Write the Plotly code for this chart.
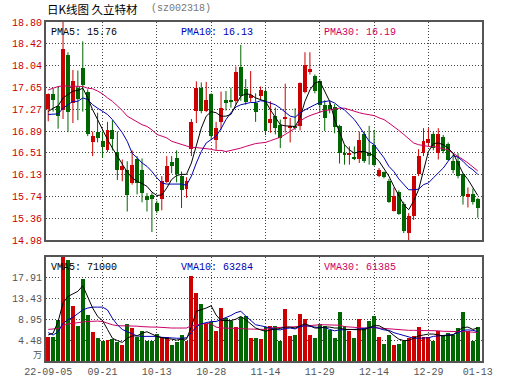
import plotly.graph_objects as go

# ---------------- data ----------------
tick_idx = [0, 11, 22, 33, 44, 55, 66, 77, 87]
tick_text = ["22-09-05", "09-21", "10-13", "10-28", "11-14", "11-29", "12-14", "12-29", "01-13"]

price_ticks = [18.80, 18.42, 18.04, 17.65, 17.27, 16.89, 16.51, 16.13, 15.74, 15.36, 14.98]
vol_ticks = [4.48, 8.95, 13.43, 17.91]

open_ = [17.27, 17.53, 17.33, 17.25, 18.23, 17.38, 17.65, 17.99, 17.57, 16.69,
         16.88, 16.71, 16.55, 16.90, 16.52, 16.20, 16.21, 15.98, 16.40, 16.21,
         15.75, 15.76, 15.62, 15.70, 16.00, 16.35, 16.42, 16.11, 15.88, 16.57,
         17.24, 17.65, 17.24, 17.53, 16.74, 17.04, 17.43, 17.44, 17.41, 18.02,
         17.62, 17.46, 17.38, 17.51, 17.59, 17.03, 17.16, 17.00, 17.11, 16.96,
         16.97, 16.98, 17.57, 17.92, 17.86, 17.77, 17.35, 17.35, 17.31, 16.97,
         16.51, 16.47, 16.43, 16.40, 16.83, 16.51, 16.65, 16.11, 16.17, 16.02,
         15.49, 15.82, 15.61, 15.10, 15.40, 16.14, 16.50, 16.68, 16.83, 16.50,
         16.79, 16.67, 16.36, 16.36, 16.14, 15.73, 15.78, 15.69]
high = [17.55, 17.63, 17.66, 18.85, 18.27, 17.96, 17.95, 18.46, 17.62, 16.88,
        17.21, 16.88, 17.05, 17.08, 16.88, 16.39, 16.36, 16.55, 16.45, 16.41,
        15.80, 15.81, 15.67, 16.10, 16.45, 16.45, 16.55, 16.18, 16.08, 17.10,
        17.76, 17.74, 17.75, 17.55, 17.05, 17.58, 17.59, 17.65, 18.02, 18.40,
        17.80, 17.94, 17.55, 17.67, 17.62, 17.41, 17.30, 17.09, 17.72, 17.12,
        17.29, 17.74, 18.27, 18.27, 17.88, 17.80, 17.43, 17.41, 17.36, 17.00,
        16.65, 16.62, 16.62, 16.88, 16.88, 16.98, 16.91, 16.24, 16.18, 16.05,
        15.90, 15.85, 15.65, 15.45, 16.10, 16.57, 16.94, 16.94, 16.87, 16.94,
        16.82, 16.69, 16.48, 16.50, 16.15, 15.90, 15.88, 15.72]
low = [17.06, 17.23, 16.93, 17.10, 16.87, 17.03, 17.08, 17.23, 16.80, 16.45,
       16.69, 16.42, 16.52, 16.55, 16.03, 16.01, 15.48, 15.95, 15.78, 15.64,
       15.48, 15.12, 15.45, 15.50, 15.98, 16.15, 15.99, 15.54, 15.72, 16.45,
       17.03, 17.20, 17.22, 16.74, 16.56, 16.91, 17.25, 17.30, 17.35, 17.42,
       17.35, 17.40, 17.05, 17.45, 16.82, 16.86, 16.83, 16.59, 16.86, 16.69,
       16.91, 16.90, 17.55, 17.88, 17.55, 17.21, 16.89, 17.20, 16.85, 16.32,
       16.30, 16.30, 16.38, 16.33, 16.33, 16.30, 16.28, 16.08, 16.06, 15.63,
       15.48, 15.42, 15.10, 14.98, 15.33, 16.10, 16.45, 16.62, 16.55, 16.39,
       16.50, 16.37, 16.15, 16.06, 15.60, 15.55, 15.60, 15.37]
close = [17.53, 17.43, 17.16, 18.33, 17.22, 17.76, 17.45, 17.70, 16.83, 16.80,
         16.77, 16.61, 16.90, 16.75, 16.20, 16.28, 15.77, 16.30, 15.98, 15.80,
         15.68, 15.69, 15.48, 16.02, 16.28, 16.27, 16.14, 15.86, 16.02, 17.04,
         17.65, 17.24, 17.44, 16.80, 16.94, 17.29, 17.38, 17.40, 17.92, 17.51,
         17.39, 17.52, 17.23, 17.60, 16.89, 17.10, 16.94, 16.77, 17.14, 16.98,
         16.95, 17.73, 18.05, 17.98, 17.59, 17.35, 17.12, 17.27, 16.96, 16.50,
         16.47, 16.50, 16.40, 16.74, 16.37, 16.46, 16.30, 16.21, 16.08, 15.64,
         15.75, 15.44, 15.13, 15.40, 16.10, 16.46, 16.71, 16.75, 16.59, 16.84,
         16.54, 16.39, 16.20, 16.10, 15.75, 15.78, 15.64, 15.54]

ma5 = [17.23, 17.29, 17.33, 17.47, 17.53, 17.59, 17.60, 17.64, 17.47, 17.26,
       17.09, 16.91, 16.74, 16.59, 16.45, 16.30, 16.17, 16.07, 16.01, 15.97,
       15.92, 15.82, 15.76, 15.77, 15.89, 16.04, 16.11, 16.13, 16.13, 16.33,
       16.65, 16.94, 17.15, 17.23, 17.21, 17.15, 17.15, 17.18, 17.35, 17.50,
       17.54, 17.53, 17.47, 17.44, 17.41, 17.26, 17.12, 17.00, 16.98, 16.98,
       16.97, 17.12, 17.41, 17.61, 17.73, 17.76, 17.59, 17.41, 17.09, 16.86,
       16.65, 16.56, 16.50, 16.53, 16.53, 16.50, 16.45, 16.36, 16.24, 16.10,
       15.92, 15.75, 15.60, 15.51, 15.66, 15.86, 16.21, 16.53, 16.67, 16.68,
       16.65, 16.59, 16.50, 16.33, 16.15, 16.04, 15.89, 15.76]
ma10 = [17.18, 17.18, 17.19, 17.29, 17.35, 17.41, 17.41, 17.47, 17.44, 17.35,
        17.29, 17.23, 17.18, 17.09, 16.97, 16.86, 16.71, 16.50, 16.42, 16.33,
        16.27, 16.18, 16.07, 15.98, 15.96, 15.96, 15.97, 15.96, 15.94, 16.10,
        16.33, 16.53, 16.68, 16.74, 16.80, 16.93, 17.09, 17.21, 17.31, 17.35,
        17.37, 17.39, 17.39, 17.42, 17.41, 17.38, 17.35, 17.29, 17.22, 17.15,
        17.13, 17.21, 17.26, 17.31, 17.35, 17.39, 17.41, 17.42, 17.38, 17.31,
        17.26, 17.18, 17.09, 16.97, 16.83, 16.71, 16.65, 16.53, 16.42, 16.27,
        16.18, 16.05, 15.95, 15.86, 15.86, 15.87, 15.95, 15.98, 16.07, 16.15,
        16.24, 16.36, 16.46, 16.43, 16.36, 16.27, 16.21, 16.13]
ma30 = [17.61, 17.64, 17.67, 17.68, 17.68, 17.68, 17.67, 17.67, 17.64, 17.63,
        17.59, 17.54, 17.47, 17.41, 17.33, 17.25, 17.15, 17.10, 17.06, 17.00,
        16.97, 16.91, 16.83, 16.80, 16.77, 16.71, 16.68, 16.65, 16.62, 16.60,
        16.60, 16.59, 16.59, 16.57, 16.55, 16.55, 16.53, 16.55, 16.56, 16.59,
        16.62, 16.65, 16.67, 16.68, 16.69, 16.72, 16.75, 16.78, 16.83, 16.88,
        16.94, 17.06, 17.12, 17.16, 17.19, 17.22, 17.25, 17.26, 17.28, 17.29,
        17.29, 17.26, 17.23, 17.21, 17.19, 17.18, 17.16, 17.12, 17.09, 17.03,
        16.97, 16.90, 16.83, 16.75, 16.68, 16.65, 16.63, 16.62, 16.62, 16.60,
        16.59, 16.56, 16.50, 16.45, 16.39, 16.33, 16.26, 16.19]

# volume in units of 10k (万)
volume = [5.1, 5.1, 8.8, 24.0, 21.8, 11.9, 7.6, 17.6, 9.9, 6.3,
          5.0, 4.2, 4.5, 4.75, 4.1, 3.5, 8.0, 7.2, 5.1, 6.5,
          4.4, 4.4, 5.8, 5.1, 5.1, 3.5, 4.0, 5.6, 4.4, 18.2,
          14.6, 12.3, 8.0, 8.3, 6.5, 11.5, 9.2, 8.7, 7.4, 9.4,
          9.7, 5.0, 5.0, 4.7, 7.4, 7.6, 7.6, 4.2, 11.2, 5.4,
          5.6, 10.2, 9.0, 5.6, 4.9, 8.0, 7.6, 6.7, 4.9, 10.6,
          7.6, 6.5, 4.9, 9.0, 7.0, 8.6, 9.6, 5.1, 3.7, 5.6,
          3.5, 3.7, 4.2, 4.9, 5.4, 7.4, 5.1, 5.1, 4.4, 6.5,
          5.6, 6.1, 5.6, 7.2, 10.6, 6.4, 4.2, 7.4]
vma5 = [5.6, 6.0, 8.5, 12.5, 13.9, 14.5, 15.0, 16.2, 13.9, 11.4,
        9.6, 8.7, 6.8, 4.9, 4.4, 4.0, 4.9, 5.4, 5.4, 6.0,
        6.3, 5.8, 5.3, 5.0, 4.9, 4.7, 4.5, 4.7, 4.7, 7.4,
        10.7, 11.0, 11.4, 11.9, 9.9, 8.7, 8.7, 8.7, 9.0, 9.6,
        8.9, 8.1, 7.1, 6.7, 6.4, 6.7, 6.8, 7.0, 7.3, 7.3,
        7.1, 7.6, 8.0, 7.6, 7.1, 7.1, 7.3, 7.3, 7.1, 7.1,
        6.8, 6.8, 6.8, 6.8, 6.7, 7.2, 7.6, 7.6, 7.0, 6.4,
        5.5, 4.7, 4.4, 4.4, 4.9, 5.4, 5.6, 5.8, 5.8, 5.6,
        5.4, 5.5, 5.6, 6.5, 7.2, 7.3, 6.8, 7.1]
vma10 = [6.1, 5.6, 6.3, 8.1, 8.9, 9.4, 10.2, 11.0, 11.4, 11.6,
         11.6, 11.6, 11.0, 9.2, 7.8, 6.8, 6.3, 5.8, 5.4, 5.3,
         5.3, 5.3, 5.3, 5.1, 5.0, 5.0, 4.9, 4.9, 5.0, 6.1,
         7.4, 8.0, 8.3, 8.5, 8.5, 8.9, 9.4, 9.8, 10.4, 10.7,
         9.7, 8.7, 7.8, 7.6, 7.4, 7.1, 6.8, 6.7, 7.0, 7.1,
         6.9, 7.4, 7.6, 7.4, 7.3, 7.2, 7.2, 6.8, 6.5, 6.7,
         6.7, 6.8, 6.8, 6.9, 7.0, 7.2, 7.3, 7.0, 6.7, 6.6,
         6.1, 5.8, 5.5, 5.1, 4.9, 4.9, 4.9, 5.0, 5.3, 5.4,
         5.4, 5.5, 5.7, 6.1, 6.6, 6.7, 6.6, 6.33]
vma30 = [6.8, 6.9, 7.0, 7.6, 8.0, 8.1, 8.3, 8.4, 8.5, 8.6,
         8.6, 8.5, 8.1, 7.8, 7.6, 7.6, 7.6, 7.6, 7.5, 7.4,
         7.3, 7.3, 7.3, 7.2, 7.2, 7.1, 7.1, 7.1, 7.1, 7.6,
         7.8, 8.0, 8.1, 8.0, 7.3, 7.1, 7.1, 7.1, 7.0, 7.0,
         6.9, 6.9, 6.8, 6.8, 6.8, 7.1, 7.2, 7.3, 7.3, 7.3,
         7.4, 7.5, 7.6, 7.7, 7.8, 7.8, 7.8, 7.8, 7.8, 7.7,
         7.4, 7.3, 7.2, 7.1, 7.1, 7.1, 7.2, 7.1, 7.0, 6.9,
         6.8, 6.8, 6.7, 6.6, 6.6, 6.6, 6.5, 6.5, 6.5, 6.5,
         6.4, 6.4, 6.4, 6.3, 6.3, 6.3, 6.2, 6.14]

# ---------------- styling ----------------
RED = "#cc0000"
GREEN = "#006600"
BLUE = "#0000b4"
MAG = "#cc0066"
GRID = "#444444"
FRAME = "#555555"
MONO = "Liberation Mono, DejaVu Sans Mono, monospace"

W, H = 530, 391
L, R, T, B = 43, 48, 22, 30
PW, PH = W - L - R, H - T - B


def px(x):
    return (x - L) / PW


def py(y):
    return (H - B - y) / PH


x = list(range(len(close)))
up = [c >= o for o, c in zip(open_, close)]
cols = [RED if u else GREEN for u in up]

fig = go.Figure()

# wicks
for flag, col in ((True, RED), (False, GREEN)):
    wx, wy = [], []
    for i in x:
        if up[i] == flag:
            wx += [i, i, None]
            wy += [low[i], high[i], None]
    fig.add_trace(go.Scatter(x=wx, y=wy, mode="lines", line=dict(color=col, width=1),
                             hoverinfo="skip", xaxis="x", yaxis="y"))

# bodies
fig.add_trace(go.Bar(
    x=x,
    y=[max(abs(c - o), 0.015) for o, c in zip(open_, close)],
    base=[min(o, c) for o, c in zip(open_, close)],
    width=0.8, marker=dict(color=cols, line=dict(width=0)),
    xaxis="x", yaxis="y"))

# price moving averages
for arr, col in ((ma30, MAG), (ma10, BLUE), (ma5, "#000000")):
    fig.add_trace(go.Scatter(x=x, y=arr, mode="lines", line=dict(color=col, width=1),
                             xaxis="x", yaxis="y"))

# volume bars
fig.add_trace(go.Bar(x=x, y=volume, width=0.8, marker=dict(color=cols, line=dict(width=0)),
                     xaxis="x2", yaxis="y2"))
for arr, col in ((vma30, MAG), (vma10, BLUE), (vma5, "#000000")):
    fig.add_trace(go.Scatter(x=x, y=arr, mode="lines", line=dict(color=col, width=1),
                             xaxis="x2", yaxis="y2"))

xr = [-0.45, 87.85]
grid_x = tick_idx[1:-1]
axis_common = dict(showline=True, mirror=True, linecolor=FRAME, linewidth=2,
                   zeroline=False, ticks="", fixedrange=True)

fig.update_layout(
    width=W, height=H,
    margin=dict(l=L, r=R, t=T, b=B),
    plot_bgcolor="white", paper_bgcolor="white",
    showlegend=False, bargap=0,
    xaxis=dict(domain=[0, 1], range=xr, anchor="y", tickvals=grid_x, showticklabels=False,
               showgrid=True, gridcolor=GRID, gridwidth=1, griddash="1px,2px", **axis_common),
    yaxis=dict(domain=[py(240), 1], range=[price_ticks[-1], price_ticks[0]], anchor="x",
               tickvals=price_ticks, ticktext=["%.2f" % v for v in price_ticks],
               tickfont=dict(family=MONO, size=10, color=RED),
               showgrid=True, gridcolor=GRID, gridwidth=1, griddash="1px,2px", **axis_common),
    xaxis2=dict(domain=[0, 1], range=xr, anchor="y2", tickvals=tick_idx, ticktext=tick_text,
                tickfont=dict(family=MONO, size=10, color="#555555"), showgrid=False,
                minor=dict(tickvals=grid_x, showgrid=True, gridcolor=GRID, gridwidth=1,
                           griddash="1px,2px", ticks=""),
                **axis_common),
    yaxis2=dict(domain=[0, py(257)], range=[0, 22.39], anchor="x2",
                tickvals=vol_ticks, ticktext=["%.2f" % v for v in vol_ticks],
                tickfont=dict(family=MONO, size=10, color="#555555"),
                showgrid=True, gridcolor=GRID, gridwidth=1, griddash="1px,2px", **axis_common),
)

ann = []


def label(text, xp, yp, color, size=10, family=MONO, anchor="left"):
    ann.append(dict(text=text, x=px(xp), y=py(yp), xref="paper", yref="paper",
                    xanchor=anchor, yanchor="middle", showarrow=False,
                    font=dict(family=family, size=size, color=color)))


label("日K线图 久立特材", 42, 8.5, "#000000", size=11.5, family="Noto Sans CJK SC")
label("(sz002318)", 147, 8.5, "#777777")
label("PMA5: 15.76", 46, 32.5, "#000000")
label("PMA10: 16.13", 177, 32.5, BLUE)
label("PMA30: 16.19", 321, 32.5, MAG)
label("VMA5: 71000", 46, 267, "#000000")
label("VMA10: 63284", 177, 267, BLUE)
label("VMA30: 61385", 321, 267, MAG)
label("万", 41, 354.5, "#555555", size=9, family="Noto Sans CJK SC", anchor="right")
fig.update_layout(annotations=ann)

fig.write_html("out.html")
